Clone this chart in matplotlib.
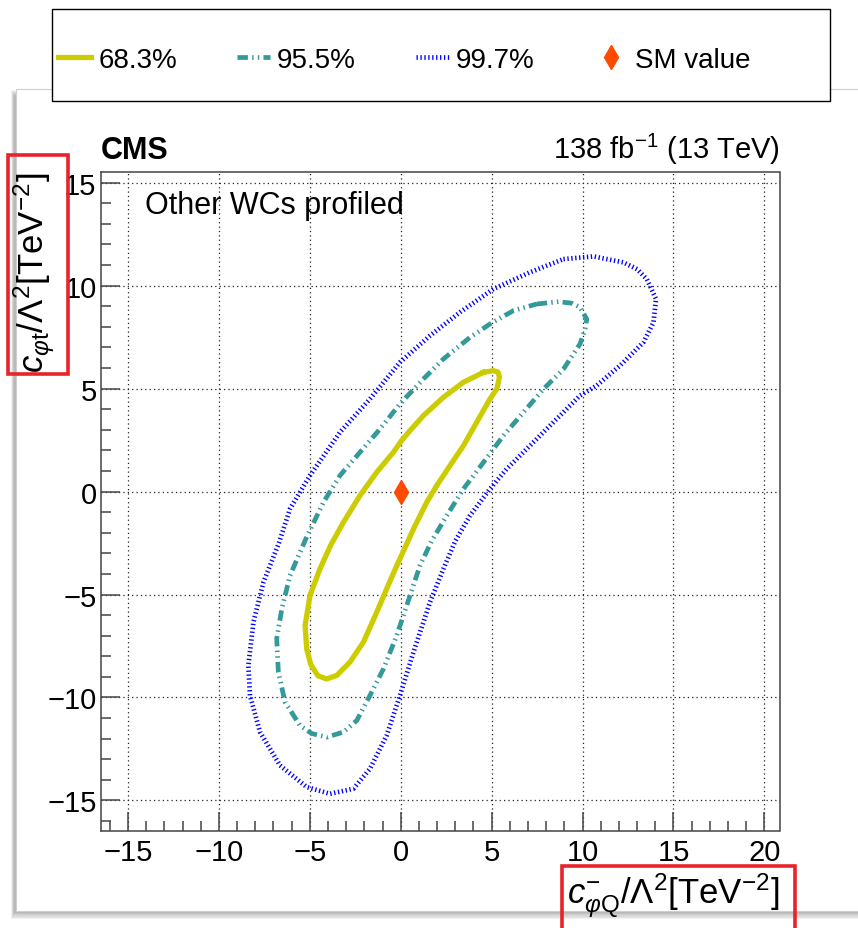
import numpy as np
import matplotlib
matplotlib.use('Agg')
import matplotlib.pyplot as plt
from matplotlib.patches import Rectangle
from matplotlib.ticker import MultipleLocator

plt.rcParams['font.family'] = ['Liberation Sans', 'DejaVu Sans']
plt.rcParams['mathtext.fontset'] = 'custom'
plt.rcParams['mathtext.rm'] = 'Liberation Sans'
plt.rcParams['mathtext.it'] = 'Liberation Sans:italic'
plt.rcParams['mathtext.bf'] = 'Liberation Sans:bold'

# Contornos del ajuste en el plano (cphiQ-, cphit)
cl68_x = [4.55, 5.1, 5.35, 5.43, 5.28, 4.91, 4.18, 3.45, 2.71, 1.98, 1.43, 0.79, 0.3, -0.22,
          -0.77, -1.32, -2.05, -2.79, -3.52, -4.07, -4.55, -4.95, -5.17, -5.26, -4.99, -4.44,
          -3.85, -3.15, -2.24, -1.32, -0.4, 0.05, 0.51, 1.25, 2.35, 3.45]
cl68_y = [5.79, 5.87, 5.8, 5.55, 4.98, 4.5, 3.37, 2.23, 1.26, 0.29, -0.52, -1.65, -2.6, -3.6,
          -4.72, -5.86, -7.31, -8.28, -8.93, -9.1, -8.95, -8.4, -7.64, -6.5, -5.05, -3.75,
          -2.6, -1.49, -0.19, 0.94, 1.91, 2.48, 2.96, 3.69, 4.58, 5.31]

cl95_x = [7.48, 8.67, 9.4, 9.86, 10.23, 10.14, 9.86, 8.95, 7.85, 6.75, 5.65, 4.55, 3.45, 2.53,
          1.7, 1.06, 0.33, -0.22, -0.95, -1.69, -2.42, -3.15, -4.07, -4.9, -5.54, -6.36, -6.73,
          -6.82, -6.54, -6.09, -5.22, -4.25, -3.34, -2.24, -1.14, -0.04, 1.25, 2.35, 3.81, 4.91,
          6.2]
cl95_y = [9.11, 9.22, 9.15, 8.95, 8.38, 7.9, 7.17, 5.95, 4.98, 3.85, 2.72, 1.42, 0.13, -1.17,
          -2.4, -3.59, -5.53, -6.99, -8.61, -9.9, -11.12, -11.68, -11.93, -11.75, -11.36, -10.23,
          -8.77, -7.15, -5.7, -4.08, -2.3, -0.52, 0.78, 1.91, 3.04, 4.26, 5.47, 6.44, 7.49,
          8.14, 8.79]

cl99_x = [8.95, 10.6, 12.25, 13.0, 13.53, 14.04, 13.9, 13.35, 12.06, 10.78, 9.86, 8.58, 7.11,
          5.83, 4.91, 3.81, 3.0, 2.35, 1.61, 0.7, -0.04, -0.77, -1.69, -2.6, -3.89, -5.17,
          -6.64, -7.74, -8.29, -8.38, -8.1, -7.55, -6.7, -6.09, -4.99, -3.34, -1.69, -0.04,
          1.61, 3.26, 5.1, 7.11]
cl99_y = [11.29, 11.42, 11.13, 10.8, 10.32, 9.35, 8.22, 7.25, 6.12, 5.15, 4.66, 3.53, 2.23,
          1.1, 0.13, -1.17, -2.4, -3.75, -5.37, -7.8, -9.9, -11.84, -13.46, -14.43, -14.68,
          -14.35, -13.3, -11.68, -9.9, -8.45, -6.34, -4.4, -2.5, -0.84, 0.78, 2.88, 4.5, 6.28,
          7.57, 8.71, 9.84, 10.65]

# Punto del Modelo Estandar
sm_x = [0.0]
sm_y = [0.0]

niveles = ['68.3%', '95.5%', '99.7%']

W, H = 858, 929
fig = plt.figure(figsize=(W / 100, H / 100), dpi=100)


def caja(x0, y0, x1, y1):
    # pixeles (origen arriba a la izquierda) -> fraccion de figura
    return (x0 / W, 1 - y1 / H), (x1 - x0) / W, (y1 - y0) / H


# Sombra difusa y fondo del lienzo
for k in range(6):
    xy, w, h = caja(14 - k * 0.6, 96 - k, 900, 914 + k * 1.2)
    fig.patches.append(Rectangle(xy, w, h, transform=fig.transFigure, facecolor='black',
                                 edgecolor='none', alpha=0.05, zorder=-3))
xy, w, h = caja(16, 90, 900, 912)
fig.patches.append(Rectangle(xy, w, h, transform=fig.transFigure, facecolor='white',
                             edgecolor='#cfcfcf', lw=0.8, zorder=-2))

ax = fig.add_axes([100.7 / W, 1 - 832.3 / H, 678.8 / W, 659.3 / H])
ax.set_facecolor('white')

l68, = ax.plot(cl68_x + cl68_x[:1], cl68_y + cl68_y[:1], color='#cccc00', lw=3.8,
               solid_joinstyle='round')
l95, = ax.plot(cl95_x + cl95_x[:1], cl95_y + cl95_y[:1], color='#339999', lw=3.4,
               linestyle=(0, (2.2, 0.9, 0.3, 0.9, 0.3, 0.9)))
l99, = ax.plot(cl99_x + cl99_x[:1], cl99_y + cl99_y[:1], color='#0000ff', lw=3.4,
               linestyle=(0, (0.28, 0.55)))
sm, = ax.plot(sm_x, sm_y, marker='d', ms=12, color='#ff4a00', ls='none', zorder=5)

ax.set_xlim(-16.5, 20.83)
ax.set_ylim(-16.5, 15.52)

ax.xaxis.set_major_locator(MultipleLocator(5))
ax.xaxis.set_minor_locator(MultipleLocator(1))
ax.yaxis.set_major_locator(MultipleLocator(5))
ax.yaxis.set_minor_locator(MultipleLocator(1))
ax.tick_params(which='both', direction='in', top=False, right=False, color='#444444',
               width=1.1, labelsize=21)
ax.tick_params(which='major', length=13.5)
ax.tick_params(which='minor', length=7)
ax.tick_params(axis='x', pad=5)
ax.tick_params(axis='y', pad=3)
for s in ax.spines.values():
    s.set_color('#444444')
    s.set_linewidth(1.1)

ax.set_axisbelow(True)
ax.grid(True, which='major', color='#222222', linestyle=(0, (1, 2.5)), linewidth=0.9)

ax.set_xlabel(r'$c^{-}_{\varphi\mathrm{Q}}/\Lambda^{2}[\mathrm{TeV}^{-2}]$', loc='right', fontsize=25)
ax.xaxis.set_label_coords(1.0, -0.060)
ax.set_ylabel(r'$c_{\varphi\mathrm{t}}/\Lambda^{2}[\mathrm{TeV}^{-2}]$', loc='top', fontsize=25)
ax.yaxis.set_label_coords(-0.064, 1.0)

ax.text(0.0, 1.021, 'CMS', transform=ax.transAxes, fontsize=22, fontweight='bold',
        va='baseline', ha='left')
ax.text(1.0, 1.021, r'138 fb$^{-1}$ (13 TeV)', transform=ax.transAxes, fontsize=21,
        va='baseline', ha='right')
ax.text(0.065, 0.938, 'Other WCs profiled', transform=ax.transAxes, fontsize=22,
        va='baseline', ha='left')

# Leyenda arriba, en su propio recuadro
xy, w, h = caja(52, 10, 830, 102)
fig.patches.append(Rectangle(xy, w, h, transform=fig.transFigure, facecolor='white',
                             edgecolor='black', lw=1, zorder=4))
fig.legend([l68, l95, l99, sm], niveles + ['SM value'], loc='center left',
           bbox_to_anchor=(58 / W, 1 - 61 / H), ncol=4, frameon=False, fontsize=20,
           handlelength=1.2, handletextpad=0.25, columnspacing=2.15, borderpad=0,
           borderaxespad=0, numpoints=1)

# Recuadros rojos sobre los titulos de los ejes
for x0, y0, x1, y1 in [(8, 156, 68, 375), (562, 867, 795, 935)]:
    xy, w, h = caja(x0, y0, x1, y1)
    fig.patches.append(Rectangle(xy, w, h, transform=fig.transFigure, fill=False,
                                 edgecolor='#e8232a', lw=2.6, zorder=10))

fig.savefig('out.png', dpi=100)
